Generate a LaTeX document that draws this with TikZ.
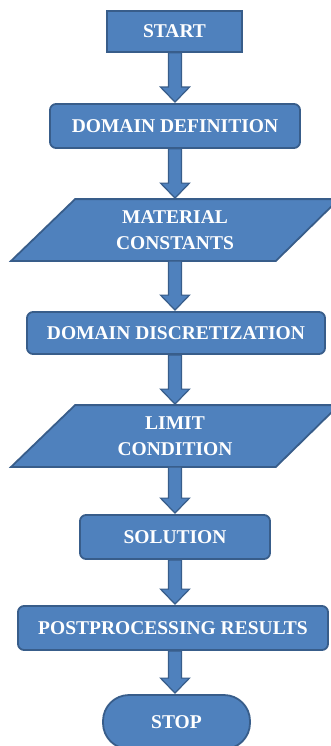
\documentclass[tikz,border=0pt]{standalone}
\usepackage{fontspec}
\setmainfont{Liberation Serif}
\usetikzlibrary{calc, backgrounds}
\definecolor{boxblue}{HTML}{4F81BD}
\definecolor{edgeblue}{HTML}{385D8A}

\tikzset{
  box/.style={draw=edgeblue, fill=boxblue, line width=1.8pt, text=white,
    font=\fontsize{19.5}{26}\selectfont\bfseries, inner sep=0pt, align=center},
  roundbox/.style={box, rounded corners=6pt},
  iotext/.style={box, draw=none, fill=none, minimum width=326pt, minimum height=60pt},
  iopath/.style={draw=edgeblue, fill=boxblue, line width=1.8pt, line join=miter},
  flowarrow/.style={draw=edgeblue, fill=boxblue, line width=1.2pt, line join=miter}
}

\begin{document}
\begin{tikzpicture}[x=1pt, y=-1pt]
  \useasboundingbox (0,0) rectangle (330,746);
  \clip (0,0) rectangle (330,746);

  % steps of the flow
  \node[box, minimum width=135pt, minimum height=41pt] (start) at (174.5,31.5) {START};
  \node[roundbox, minimum width=250pt, minimum height=44pt] (define) at (175,126) {DOMAIN DEFINITION};
  \node[iotext] (material) at (175,230) {MATERIAL\\CONSTANTS};
  \node[roundbox, minimum width=298pt, minimum height=42pt] (discrete) at (176,333) {DOMAIN DISCRETIZATION};
  \node[iotext] (limit) at (175,436) {LIMIT\\CONDITION};
  \node[roundbox, minimum width=190pt, minimum height=44pt] (solution) at (175,537) {SOLUTION};
  \node[roundbox, minimum width=310pt, minimum height=44pt] (post) at (173,628) {POSTPROCESSING RESULTS};
  \node[box, rounded corners=26pt, minimum width=147pt, minimum height=54pt] (stop) at (176.5,722) {STOP};

  % input boxes drawn as parallelograms behind their text
  \begin{scope}[on background layer]
    \foreach \n in {material, limit}
      \draw[iopath] (\n.south west) -- ($(\n.south east)+(-63,0)$)
        -- (\n.north east) -- ($(\n.north west)+(64,0)$) -- cycle;
  \end{scope}

  % block arrows between the steps
  \foreach \a/\b in {start/define, define/material, material/discrete, discrete/limit,
                     limit/solution, solution/post, post/stop}
    \path[flowarrow] let \p1=(\a.south), \p2=(\b.north) in
      (175pt-6.5pt,\y1) -- (175pt+6.5pt,\y1) -- (175pt+6.5pt,\y2+16pt)
      -- (175pt+14.5pt,\y2+16pt) -- (175pt,\y2+1pt) -- (175pt-14.5pt,\y2+16pt)
      -- (175pt-6.5pt,\y2+16pt) -- cycle;
\end{tikzpicture}
\end{document}
